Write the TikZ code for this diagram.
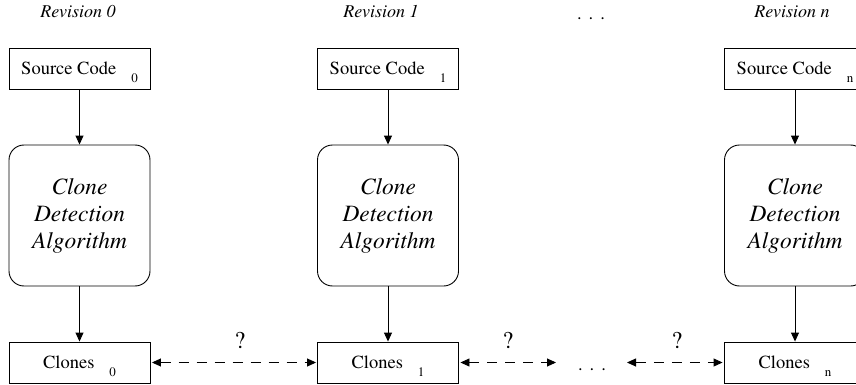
\documentclass[tikz,border=0pt]{standalone}
\usepackage[T1]{fontenc}
\usepackage{times}
\usetikzlibrary{arrows.meta}
\tikzset{
  x=1pt,y=-1pt,
  box/.style={draw,line width=0.9pt,rectangle,minimum width=141pt,minimum height=41pt,inner sep=0pt,
    font=\rmfamily\fontsize{18.5}{22}\selectfont},
  algbox/.style={draw,line width=0.9pt,rectangle,rounded corners=15pt,minimum width=141pt,minimum height=141pt,
    inner sep=0pt,align=center,font=\rmfamily\itshape\fontsize{23.4}{27}\selectfont},
  revlabel/.style={anchor=base,font=\rmfamily\itshape\fontsize{18}{22}\selectfont},
  qmark/.style={font=\rmfamily\fontsize{24}{24}\selectfont},
  dotsnode/.style={anchor=base,font=\rmfamily\fontsize{18.5}{22}\selectfont},
  flow/.style={line width=0.9pt,-{Triangle[length=9pt,width=8pt]}},
  maybe/.style={line width=0.9pt,dash pattern=on 10pt off 8pt,{Triangle[length=9pt,width=8pt]}-{Triangle[length=9pt,width=8pt]}}
}
\newcommand{\subidx}[1]{\hspace{15pt}\smash{\raisebox{-8pt}{\fontsize{13}{13}\selectfont #1}}}
\begin{document}
\begin{tikzpicture}
\useasboundingbox (0,0) rectangle (856,385);
% labels
\node[revlabel] (r0) at (78,18) {Revision 0};
\node[revlabel] (r1) at (381,18) {Revision 1};
\node[revlabel] (rn) at (792,18) {Revision n};
\node[dotsnode] (tdots) at (591,20) {.\hspace{7pt}.\hspace{7pt}.};
% column 0
\node[box] (s0) at (79.5,68.5) {Source Code\subidx{0}};
\node[algbox] (a0) at (79.5,215.5) {Clone\\Detection\\Algorithm};
\node[box] (c0) at (79.5,362.5) {Clones\subidx{0}};
% column 1
\node[box] (s1) at (388,68.5) {Source Code\subidx{1}};
\node[algbox] (a1) at (388,215.5) {Clone\\Detection\\Algorithm};
\node[box] (c1) at (388,362.5) {Clones\subidx{1}};
% column n
\node[box] (sn) at (795,68.5) {Source Code\subidx{n}};
\node[algbox] (an) at (795,215.5) {Clone\\Detection\\Algorithm};
\node[box] (cn) at (795,362.5) {Clones\subidx{n}};
% vertical flow
\draw[flow] (s0) -- (a0);
\draw[flow] (a0) -- (c0);
\draw[flow] (s1) -- (a1);
\draw[flow] (a1) -- (c1);
\draw[flow] (sn) -- (an);
\draw[flow] (an) -- (cn);
% bottom dots and dashed links
\node[dotsnode] (bdots) at (592,370) {.\hspace{7pt}.\hspace{7pt}.};
\coordinate (e2) at (556,362.5);
\coordinate (e3) at (627,362.5);
\draw[maybe] ([xshift=1.5pt]c0.east) -- ([xshift=-1pt]c1.west);
\draw[maybe] ([xshift=1.5pt]c1.east) -- (e2);
\draw[maybe] (e3) -- ([xshift=-1.5pt]cn.west);
\node[qmark] (q1) at (240,340) {?};
\node[qmark] (q2) at (508,340) {?};
\node[qmark] (q3) at (677,340) {?};
\end{tikzpicture}
\end{document}
